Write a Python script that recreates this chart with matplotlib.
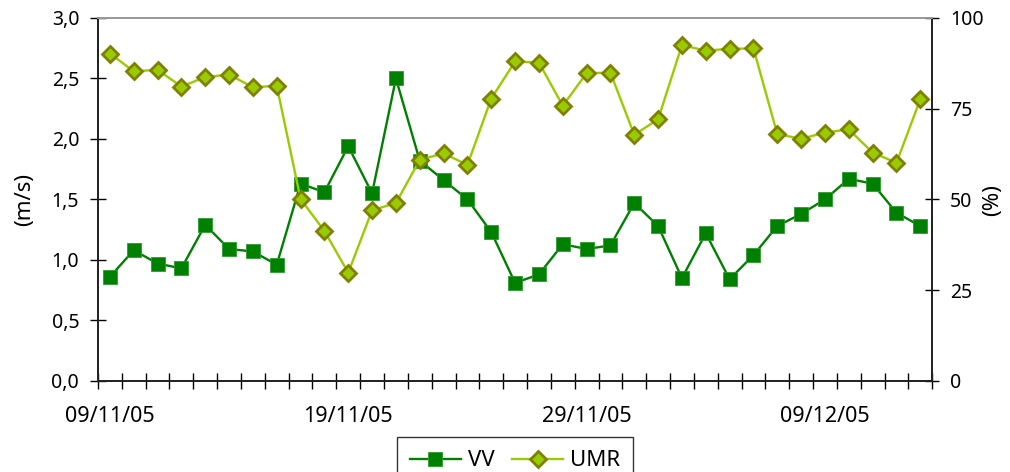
import matplotlib
matplotlib.use('Agg')
import matplotlib.pyplot as plt
from matplotlib.ticker import FuncFormatter, MultipleLocator

plt.rcParams['font.family'] = ['Noto Sans', 'DejaVu Sans']

# daily values 09/11/05 .. 13/12/05
days = ['09/11/05', '10/11/05', '11/11/05', '12/11/05', '13/11/05', '14/11/05',
        '15/11/05', '16/11/05', '17/11/05', '18/11/05', '19/11/05', '20/11/05',
        '21/11/05', '22/11/05', '23/11/05', '24/11/05', '25/11/05', '26/11/05',
        '27/11/05', '28/11/05', '29/11/05', '30/11/05', '01/12/05', '02/12/05',
        '03/12/05', '04/12/05', '05/12/05', '06/12/05', '07/12/05', '08/12/05',
        '09/12/05', '10/12/05', '11/12/05', '12/12/05', '13/12/05']
vv = [0.86, 1.08, 0.97, 0.93, 1.29, 1.09, 1.07, 0.96, 1.63, 1.56,
      1.94, 1.55, 2.50, 1.82, 1.66, 1.50, 1.23, 0.81, 0.88, 1.13,
      1.09, 1.12, 1.47, 1.28, 0.85, 1.22, 0.84, 1.04, 1.28, 1.38,
      1.50, 1.67, 1.63, 1.39, 1.28]
umr = [90.2, 85.3, 85.7, 81.1, 83.7, 84.4, 80.9, 81.3, 50.1, 41.3,
       29.8, 47.0, 49.0, 60.9, 62.7, 59.5, 77.8, 88.0, 87.7, 75.8,
       84.8, 84.9, 67.8, 72.1, 92.5, 91.0, 91.5, 91.6, 68.0, 66.7,
       68.4, 69.3, 62.9, 60.1, 77.6]
label_idx = [0, 10, 20, 30]

x = list(range(len(days)))

fig = plt.figure(figsize=(10.1, 4.72), dpi=100)
ax = fig.add_axes([0.097, 0.193, 0.826, 0.769])
ax2 = ax.twinx()

l1, = ax.plot(x, vv, color='#008000', lw=1.7, marker='s', markersize=10,
              markerfacecolor='#008000', markeredgecolor='#2e9a2e',
              markeredgewidth=0.6, label='VV', zorder=3)
l2, = ax2.plot(x, umr, color='#99cc00', lw=1.7, marker='D', markersize=8,
               markerfacecolor='#99cc00', markeredgecolor='#808000',
               markeredgewidth=2, label='UMR', zorder=3)

ax.set_xlim(-0.5, len(days) - 0.5)
ax.set_ylim(0, 3)
ax2.set_ylim(0, 100)
ax.yaxis.set_major_locator(MultipleLocator(0.5))
ax.yaxis.set_major_formatter(FuncFormatter(lambda v, p: f'{v:.1f}'.replace('.', ',')))
ax2.set_yticks([0, 25, 50, 75, 100])

ax.set_xticks(label_idx)
ax.set_xticklabels([days[i] for i in label_idx])
ax.set_xticks([i - 0.5 for i in range(len(days) + 1)], minor=True)
ax.tick_params(axis='x', which='major', length=0, pad=18, labelsize=15.5)
ax.tick_params(axis='x', which='minor', direction='inout', length=11, width=1)
ax.tick_params(axis='y', direction='inout', length=11, width=1, labelsize=14, pad=8)
ax2.tick_params(axis='y', direction='inout', length=10, width=1, labelsize=14, pad=8)

for a in (ax, ax2):
    for s in ('left', 'right', 'bottom'):
        a.spines[s].set_color('#222222')
        a.spines[s].set_linewidth(1.3)
    a.spines['top'].set_color('#999999')
    a.spines['top'].set_linewidth(1.3)

fig.text(25 / 1010, 1 - 200 / 472, '(m/s)', rotation=90, ha='center',
         va='center', fontsize=16)
fig.text(993 / 1010, 1 - 200 / 472, '(%)', rotation=90, ha='center',
         va='center', fontsize=16)

leg = fig.legend([l1, l2], ['VV', 'UMR'], loc='upper center',
                 bbox_to_anchor=(515 / 1010, 1 - 437 / 472), ncol=2,
                 fontsize=16, frameon=True, fancybox=False, handlelength=2.3,
                 columnspacing=0.8, handletextpad=0.3, borderpad=0.6,
                 borderaxespad=0)
leg.get_frame().set_edgecolor('black')
leg.get_frame().set_linewidth(1.0)

fig.savefig('out.png', dpi=100)
